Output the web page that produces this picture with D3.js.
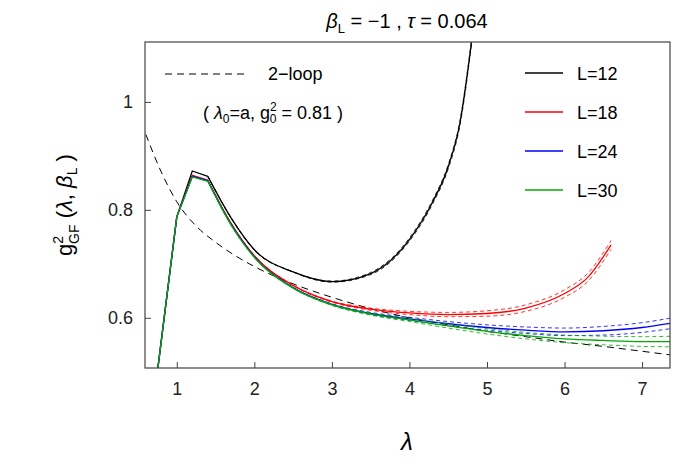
<!DOCTYPE html><html><head><meta charset="utf-8"><script src="https://d3js.org/d3.v7.min.js"></script>
<style>body{margin:0;background:#fff}text{font-family:"Liberation Sans",Arial,sans-serif}</style></head><body><svg id="c" width="675" height="465"></svg><script>
const lam=[0.75,1.0,1.2,1.4,1.7,2.0,2.5,3.0,3.5,4.0,4.3,4.5,4.65,4.8];
const gL12=[0.50,0.787,0.872,0.862,0.785,0.726,0.685,0.667,0.682,0.745,0.815,0.880,0.96,1.11];
const lamR=[0.75,1.0,1.2,1.4,1.7,2.0,2.5,3.0,3.5,4.0,4.5,5.0,5.5,6.0,6.3,6.6];
const gL18=[0.50,0.787,0.864,0.855,0.775,0.715,0.660,0.630,0.616,0.609,0.606,0.608,0.618,0.645,0.675,0.735];
const lamB=[0.75,1.0,1.2,1.4,1.7,2.0,2.5,3.0,3.5,4.0,4.5,5.0,5.5,6.0,6.5,7.0,7.38];
const gL24=[0.50,0.787,0.862,0.854,0.773,0.713,0.656,0.625,0.608,0.598,0.589,0.582,0.577,0.574,0.576,0.582,0.590];
const gL30=[0.50,0.787,0.861,0.853,0.772,0.712,0.655,0.624,0.607,0.596,0.585,0.575,0.567,0.561,0.558,0.556,0.556];
const lam2=[0.6,0.8,1.0,1.25,1.5,2.0,2.5,3.0,3.5,4.0,4.5,5.0,5.5,6.0,6.5,7.0,7.38];
const g2loop=[0.94,0.87,0.815,0.77,0.74,0.695,0.663,0.638,0.617,0.600,0.587,0.575,0.565,0.555,0.547,0.538,0.531];
const xTicks=[1,2,3,4,5,6,7], yTicks=[0.6,0.8,1];
const legendNames=["L=12","L=18","L=24","L=30"], legendColors=["#000","#f00","#00f","#0a0"];
const svg=d3.select("#c");
const L=145,R=670,T=42,B=368;
const x=d3.scaleLinear().domain([0.59,7.36]).range([L,R]);
const y=d3.scaleLinear().domain([0.507,1.111]).range([B,T]);
svg.append("defs").append("clipPath").attr("id","cp").append("rect").attr("x",L).attr("y",T).attr("width",R-L).attr("height",B-T);
const g=svg.append("g").attr("clip-path","url(#cp)");
const line=(xs)=>d3.line().x((d,i)=>x(xs[i])).y(d=>y(d)).curve(d3.curveMonotoneX);
const lin=(xs)=>d3.line().x((d,i)=>x(xs[i])).y(d=>y(d));
g.append("path").attr("d",line(lam2)(g2loop)).attr("fill","none").attr("stroke","#000").attr("stroke-width",1).attr("stroke-dasharray","7,5");
function series(xs,ys,col){
 const k=xs.indexOf(1.4);
 g.append("path").attr("d",lin(xs.slice(0,k+1))(ys.slice(0,k+1))).attr("fill","none").attr("stroke",col).attr("stroke-width",1.3);
 const xs2=xs.slice(k), ys2=ys.slice(k);
 g.append("path").attr("d",line(xs2)(ys2)).attr("fill","none").attr("stroke",col).attr("stroke-width",1.3);
 [-1,1].forEach(s=>g.append("path").attr("d",line(xs2)(ys2.map((v,i)=>v+s*0.002*Math.max(0,xs2[i]-2.5)))).attr("fill","none").attr("stroke",col).attr("stroke-width",0.8).attr("stroke-dasharray","4,3"));
}
series(lam,gL12,legendColors[0]);series(lamR,gL18,legendColors[1]);series(lamB,gL24,legendColors[2]);series(lamB,gL30,legendColors[3]);
svg.append("rect").attr("x",L).attr("y",T).attr("width",R-L).attr("height",B-T).attr("fill","none").attr("stroke","#444").attr("stroke-width",1.2);
const xa=svg.append("g").attr("transform",`translate(0,${B})`).call(d3.axisBottom(x).tickValues(xTicks).tickSize(-6).tickPadding(14).tickFormat(d3.format("d")));
const ya=svg.append("g").attr("transform",`translate(${L},0)`).call(d3.axisLeft(y).tickValues(yTicks).tickSize(-6).tickPadding(12).tickFormat(d=>d===1?"1":d3.format(".1f")(d)));
[xa,ya].forEach(a=>{a.select(".domain").remove();a.selectAll("line").attr("stroke","#444");a.selectAll("text").attr("font-size",18).attr("fill","#222");});
svg.append("text").attr("x",407).attr("y",28).attr("text-anchor","middle").attr("font-size",20).html('<tspan font-style="italic">β</tspan><tspan font-size="13" dy="5">L</tspan><tspan dy="-5"> = −1 , </tspan><tspan font-style="italic">τ</tspan> = 0.064');
svg.append("text").attr("x",407).attr("y",450).attr("text-anchor","middle").attr("font-size",24).attr("font-style","italic").text("λ");
svg.append("text").attr("transform","translate(72,205) rotate(-90)").attr("text-anchor","middle").attr("font-size",22).html('g<tspan font-size="14" dy="-9">2</tspan><tspan font-size="14" dy="16" dx="-8">GF</tspan><tspan dy="-7"> (</tspan><tspan font-style="italic">λ</tspan>, <tspan font-style="italic">β</tspan><tspan font-size="14" dy="5">L</tspan><tspan dy="-5"> )</tspan>');
svg.append("line").attr("x1",165).attr("x2",245).attr("y1",74).attr("y2",74).attr("stroke","#000").attr("stroke-dasharray","7,5");
svg.append("text").attr("x",268).attr("y",80).attr("font-size",18).text("2−loop");
svg.append("text").attr("x",203).attr("y",119).attr("font-size",18).html('( <tspan font-style="italic">λ</tspan><tspan font-size="12" dy="4">0</tspan><tspan dy="-4">=a,  g</tspan><tspan font-size="12" dy="-8">2</tspan><tspan font-size="12" dy="12" dx="-7">0</tspan><tspan dy="-4"> = 0.81 )</tspan>');
legendNames.forEach((n,i)=>{
 const yy=73+i*39;
 svg.append("line").attr("x1",525).attr("x2",563).attr("y1",yy).attr("y2",yy).attr("stroke",legendColors[i]).attr("stroke-width",1.3);
 svg.append("text").attr("x",577).attr("y",yy+7).attr("font-size",18).text(n);
});
</script></body></html>
